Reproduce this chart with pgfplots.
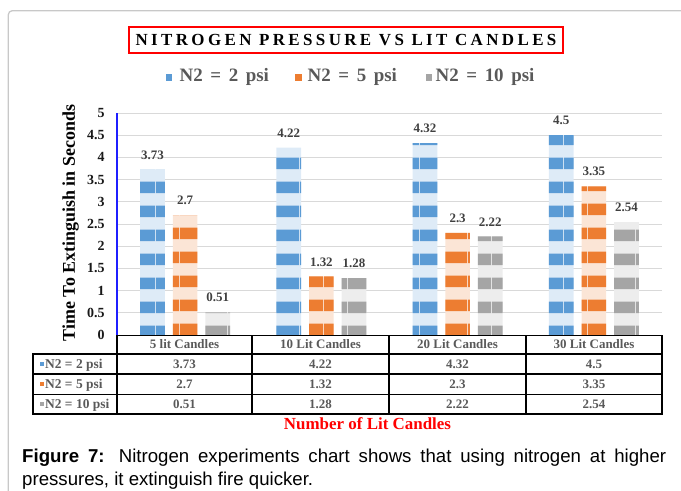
\documentclass[border=0pt]{standalone}
\usepackage{pgfplots}
\usepackage{pgfplotstable}
\pgfplotsset{compat=1.18}
\usetikzlibrary{patterns.meta}
\usepackage{fontspec}
\setmainfont{Liberation Serif}
\newfontfamily\capfont{Liberation Sans}
\newfontfamily\titlefont[LetterSpace=20]{Liberation Serif}
\newfontfamily\legfont[WordSpace=1.6]{Liberation Serif}
\definecolor{bdark}{HTML}{5B9BD5}
\definecolor{blight}{HTML}{DEEBF7}
\definecolor{odark}{HTML}{ED7D31}
\definecolor{olight}{HTML}{FBE5D6}
\definecolor{gdark}{HTML}{A5A5A5}
\definecolor{glight}{HTML}{EDEDED}
\definecolor{txtgray}{HTML}{595959}
\definecolor{lblgray}{HTML}{404040}
\definecolor{gridgray}{HTML}{D9D9D9}
\definecolor{framegray}{HTML}{C8C8C8}
\definecolor{axisblue}{HTML}{1F1FFF}

\pgfplotstableread{
x v2 v5 v10
0 3.73 2.7 0.51
1 4.22 1.32 1.28
2 4.32 2.3 2.22
3 4.5 3.35 2.54
}\datatable

\tikzset{
  striped/.style n args={3}{fill=#2, draw=none,
    postaction={pattern={Lines[angle=0, distance=24bp, line width=12bp, yshift=#3]}, pattern color=#1}
  }
}

\begin{document}
\begin{tikzpicture}
\draw[framegray, line width=1.3bp, rounded corners=4bp] (8.3bp,-2bp) -- (8.3bp,480.3bp) -- (690bp,480.3bp);
\begin{axis}[
  at={(117bp,156bp)}, anchor=south west,
  scale only axis, width=545bp, height=222bp,
  clip=false,
  ymin=0, ymax=5,
  ytick={0,0.5,1,1.5,2,2.5,3,3.5,4,4.5,5},
  xmin=-0.5, xmax=3.5, xtick=\empty,
  axis x line=bottom, axis y line=left,
  axis line style={-},
  x axis line style={draw=none},
  y axis line style={axisblue, line width=1.7bp},
  major tick length=0pt,
  ymajorgrids, grid style={gridgray, line width=0.9bp},
  /pgf/number format/assume math mode=true,
  yticklabel style={font=\bfseries\fontsize{14}{14}\selectfont, text=black!90, xshift=-9bp},
  ylabel={Time To Extinguish in Seconds},
  ylabel style={font=\bfseries\fontsize{18}{18}\selectfont, at={(axis description cs:-0.0853,0.5045)}, anchor=center},
  ybar=8bp, bar width=24.7bp,
  nodes near coords,
  every node near coord/.append style={font=\bfseries\fontsize{13}{13}\selectfont, text=lblgray, inner sep=0bp, yshift=10bp, anchor=south},
]
\addplot[striped={bdark}{blight}{16bp}] table[x=x,y=v2]{\datatable};
\addplot[striped={odark}{olight}{18bp}] table[x=x,y=v5]{\datatable};
\addplot[striped={gdark}{glight}{16bp}] table[x=x,y=v10]{\datatable};
\end{axis}

% title
\node[draw=red, line width=1.5bp, minimum width=434bp, minimum height=26bp, inner sep=0pt,
  font=\titlefont\bfseries\fontsize{17}{17}\selectfont] at (346bp,451bp) {NITROGEN PRESSURE VS LIT CANDLES};

% legend
\fill[bdark] (165.5bp,410.2bp) rectangle (172bp,416.7bp);
\fill[odark] (295bp,410.2bp) rectangle (301.5bp,416.7bp);
\fill[gdark] (425.5bp,410.2bp) rectangle (432bp,416.7bp);
\begin{scope}[every node/.style={anchor=base west, inner sep=0pt, text=txtgray, font=\legfont\bfseries\fontsize{19}{19}\selectfont}]
\node at (179.5bp,409bp) {N2 = 2 psi};
\node at (307.5bp,409bp) {N2 = 5 psi};
\node at (435.5bp,409bp) {N2 = 10 psi};
\end{scope}

% data table
\begin{scope}[line width=1.7bp, line cap=rect]
\draw (117bp,155.5bp) -- (662bp,155.5bp);
\foreach \yy in {137,117,96.5,77} \draw (33bp,\yy bp) -- (662bp,\yy bp);
\draw (33bp,137bp) -- (33bp,77bp);
\foreach \xx in {117,252,389,526,662} \draw (\xx bp,155.5bp) -- (\xx bp,77bp);
\end{scope}
\begin{scope}[every node/.style={anchor=base, inner sep=0pt, text=txtgray, font=\bfseries\fontsize{13}{13}\selectfont}]
\node at (184.5bp,142bp) {5 lit Candles};
\node at (320.5bp,142bp) {10 Lit Candles};
\node at (457.5bp,142bp) {20 Lit Candles};
\node at (594bp,142bp) {30 Lit Candles};
\node at (184.5bp,122.6bp) {3.73};
\node at (320.5bp,122.6bp) {4.22};
\node at (457.5bp,122.6bp) {4.32};
\node at (594bp,122.6bp) {4.5};
\node at (184.5bp,102.4bp) {2.7};
\node at (320.5bp,102.4bp) {1.32};
\node at (457.5bp,102.4bp) {2.3};
\node at (594bp,102.4bp) {3.35};
\node at (184.5bp,82.4bp) {0.51};
\node at (320.5bp,82.4bp) {1.28};
\node at (457.5bp,82.4bp) {2.22};
\node at (594bp,82.4bp) {2.54};
\end{scope}
\fill[bdark] (40bp,125.2bp) rectangle (43.5bp,128.7bp);
\fill[odark] (40bp,105bp) rectangle (43.5bp,108.5bp);
\fill[gdark] (40bp,85bp) rectangle (43.5bp,88.5bp);
\begin{scope}[every node/.style={anchor=base west, inner sep=0pt, text=txtgray, font=\bfseries\fontsize{13.5}{13.5}\selectfont}]
\node at (45bp,122.6bp) {N2 = 2 psi};
\node at (45bp,102.4bp) {N2 = 5 psi};
\node at (45bp,82.4bp) {N2 = 10 psi};
\end{scope}

% x label
\node[anchor=base, inner sep=0pt, text=red, font=\bfseries\fontsize{17}{17}\selectfont] at (367.5bp,61.4bp) {Number of Lit Candles};

% caption
\node[anchor=base west, inner sep=0pt, font=\capfont\fontsize{18.7}{23}\selectfont] at (22bp,29bp)
  {\makebox[644bp][s]{\textbf{Figure 7:} Nitrogen experiments chart shows that using nitrogen at higher}};
\node[anchor=base west, inner sep=0pt, font=\capfont\fontsize{18.7}{23}\selectfont] at (22bp,6bp)
  {pressures, it extinguish fire quicker.};

\pgfresetboundingbox
\path[use as bounding box] (0,0) rectangle (681bp,491bp);
\end{tikzpicture}
\end{document}
